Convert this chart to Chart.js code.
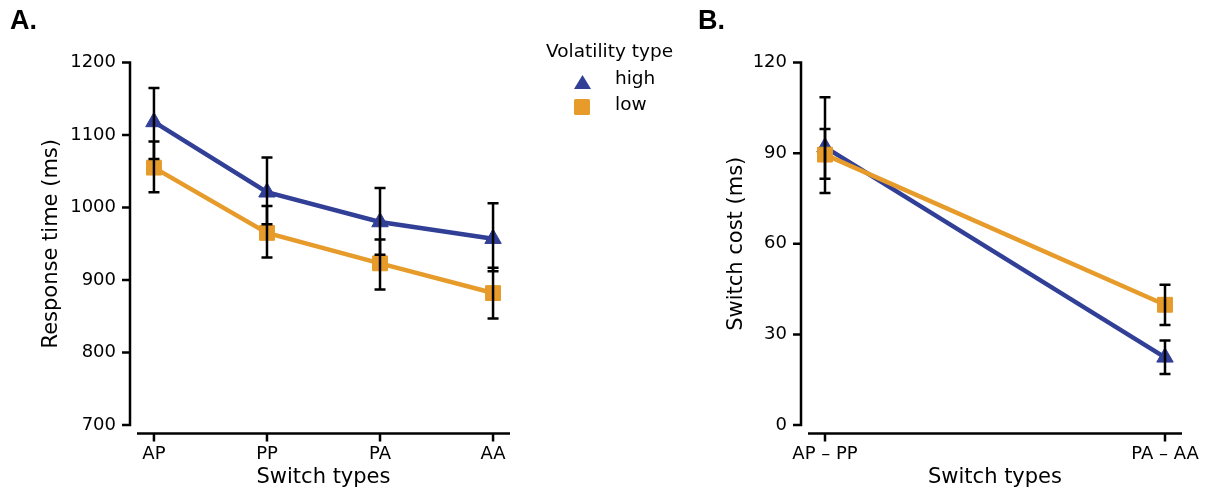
<!DOCTYPE html>
<html>
<head>
<meta charset="utf-8">
<script src="https://cdn.jsdelivr.net/npm/chart.js@4.4.1/dist/chart.umd.min.js"></script>
<style>
  body { margin: 0; width: 1209px; height: 494px; background: #fff; position: relative; overflow: hidden; font-family: "DejaVu Sans", sans-serif; }
  canvas { position: absolute; top: 0; }
  .panel { position: absolute; font-family: "Liberation Sans", Arial, sans-serif; font-weight: bold; font-size: 27px; line-height: 1; color: #000; }
  .leg { position: absolute; font-size: 18.5px; line-height: 1; color: #000; white-space: nowrap; }
  .mk { position: absolute; }
</style>
</head>
<body>
<canvas id="rtChart" width="560" height="494" style="left:0"></canvas>
<canvas id="costChart" width="519" height="494" style="left:690px"></canvas>

<div class="panel" style="left:10px; top:7px">A.</div>
<div class="panel" style="left:698px; top:7px">B.</div>

<div class="leg" style="left:546px; top:42px">Volatility type</div>
<div class="mk" style="left:574px; top:75px; width:17px; height:14px; background:#313f96; clip-path:polygon(50% 0, 100% 100%, 0 100%)"></div>
<div class="leg" style="left:615px; top:69px">high</div>
<div class="mk" style="left:574px; top:99px; width:16px; height:16px; background:#e69b2a; border-radius:1.5px"></div>
<div class="leg" style="left:615px; top:95px">low</div>

<script>
const blue = '#313f96';
const orange = '#e69b2a';

// response times per switch type (ms), with 95% CI bounds
const switchTypes = ['AP', 'PP', 'PA', 'AA'];
const rtHigh = [1118, 1021, 980, 957];
const rtHighLo = [1067, 977, 935, 912];
const rtHighHi = [1165, 1069, 1027, 1006];
const rtLow = [1055, 965, 923, 882];
const rtLowLo = [1021, 931, 887, 847];
const rtLowHi = [1091, 1002, 956, 917];
const rtTicks = [700, 800, 900, 1000, 1100, 1200];

// switch costs (ms)
const costTypes = ['AP – PP', 'PA – AA'];
const costHigh = [92, 22.4];
const costHighLo = [76.8, 16.9];
const costHighHi = [108.5, 28.0];
const costLow = [89.5, 39.8];
const costLowLo = [81.5, 33.1];
const costLowHi = [98, 46.4];
const costTicks = [0, 30, 60, 90, 120];

// black CI whiskers with caps, drawn over lines and markers
const errorBars = {
  id: 'errorBars',
  afterDatasetsDraw(chart) {
    const { ctx, scales: { x, y } } = chart;
    ctx.save();
    ctx.strokeStyle = '#000';
    ctx.lineWidth = 2.5;
    chart.data.datasets.forEach(ds => {
      ds.errLo.forEach((lo, i) => {
        const px = x.getPixelForValue(i);
        const y1 = y.getPixelForValue(lo);
        const y2 = y.getPixelForValue(ds.errHi[i]);
        ctx.beginPath();
        ctx.moveTo(px, y1); ctx.lineTo(px, y2);
        ctx.moveTo(px - 5.5, y1); ctx.lineTo(px + 5.5, y1);
        ctx.moveTo(px - 5.5, y2); ctx.lineTo(px + 5.5, y2);
        ctx.stroke();
      });
    });
    ctx.restore();
  }
};

// offset spines with outward tick marks
const spines = {
  id: 'spines',
  afterDraw(chart) {
    const { ctx, chartArea: a, scales: { x, y } } = chart;
    const sx = a.left - 7;
    const sy = a.bottom + 8.5;
    const yTop = y.getPixelForValue(y.max);
    const yBot = y.getPixelForValue(y.min);
    ctx.save();
    ctx.strokeStyle = '#000';
    ctx.lineWidth = 2.5;
    ctx.beginPath();
    ctx.moveTo(sx, yTop - 1.25); ctx.lineTo(sx, yBot + 1.25);
    y.ticks.forEach(t => {
      const py = y.getPixelForValue(t.value);
      ctx.moveTo(sx - 8, py); ctx.lineTo(sx, py);
    });
    ctx.moveTo(a.left, sy); ctx.lineTo(a.right, sy);
    x.ticks.forEach(t => {
      const px = x.getPixelForValue(t.value);
      ctx.moveTo(px, sy); ctx.lineTo(px, sy + 8);
    });
    ctx.stroke();
    ctx.restore();
  }
};

function series(label, vals, lo, hi, color, style, radius, order) {
  return {
    label,
    data: vals.map((v, i) => ({ x: i, y: v })),
    errLo: lo,
    errHi: hi,
    borderColor: color,
    backgroundColor: color,
    borderWidth: 4.5,
    pointStyle: style,
    pointRadius: radius,
    pointBorderWidth: 1,
    pointBackgroundColor: color,
    pointBorderColor: color,
    order
  };
}

function makeChart(id, cats, yTicks, yTitle, yTitlePad, rightPad, leftWidth, datasets) {
  const margin = 0.05 * (cats.length - 1);
  return new Chart(document.getElementById(id), {
    type: 'line',
    data: { datasets },
    options: {
      responsive: false,
      animation: false,
      devicePixelRatio: 1,
      layout: { padding: { top: 62.5, right: rightPad, bottom: 0, left: 0 } },
      plugins: { legend: { display: false }, tooltip: { enabled: false } },
      scales: {
        x: {
          type: 'linear',
          min: -margin,
          max: cats.length - 1 + margin,
          afterBuildTicks: s => { s.ticks = cats.map((_, i) => ({ value: i })); },
          afterFit: s => { s.height = 69; s.paddingLeft = 0; s.paddingRight = 0; },
          ticks: {
            callback: v => cats[v],
            padding: 18.5,
            font: { family: 'DejaVu Sans', size: 18 },
            color: '#000',
            maxRotation: 0,
            autoSkip: false
          },
          grid: { display: false, drawTicks: false },
          border: { display: false },
          title: {
            display: true,
            text: 'Switch types',
            font: { family: 'DejaVu Sans', size: 21 },
            color: '#000',
            padding: { top: 0, bottom: 4 }
          }
        },
        y: {
          min: yTicks[0],
          max: yTicks[yTicks.length - 1],
          afterBuildTicks: s => { s.ticks = yTicks.map(v => ({ value: v })); },
          afterFit: s => { s.width = leftWidth; s.paddingTop = 0; s.paddingBottom = 0; },
          ticks: {
            callback: v => String(v),
            padding: 21,
            font: { family: 'DejaVu Sans', size: 18 },
            color: '#000'
          },
          grid: { display: false, drawTicks: false },
          border: { display: false },
          title: {
            display: true,
            text: yTitle,
            font: { family: 'DejaVu Sans', size: 21 },
            color: '#000',
            padding: { top: yTitlePad, bottom: 0 }
          }
        }
      }
    },
    plugins: [errorBars, spines]
  });
}

makeChart('rtChart', switchTypes, rtTicks, 'Response time (ms)', 39.4, 50, 137, [
  series('high', rtHigh, rtHighLo, rtHighHi, blue, 'triangle', 9.5, 2),
  series('low', rtLow, rtLowLo, rtLowHi, orange, 'rect', 10.5, 1)
]);

makeChart('costChart', costTypes, costTicks, 'Switch cost (ms)', 34.4, 27, 118, [
  series('high', costHigh, costHighLo, costHighHi, blue, 'triangle', 9.5, 2),
  series('low', costLow, costLowLo, costLowHi, orange, 'rect', 10.5, 1)
]);
</script>
</body>
</html>
